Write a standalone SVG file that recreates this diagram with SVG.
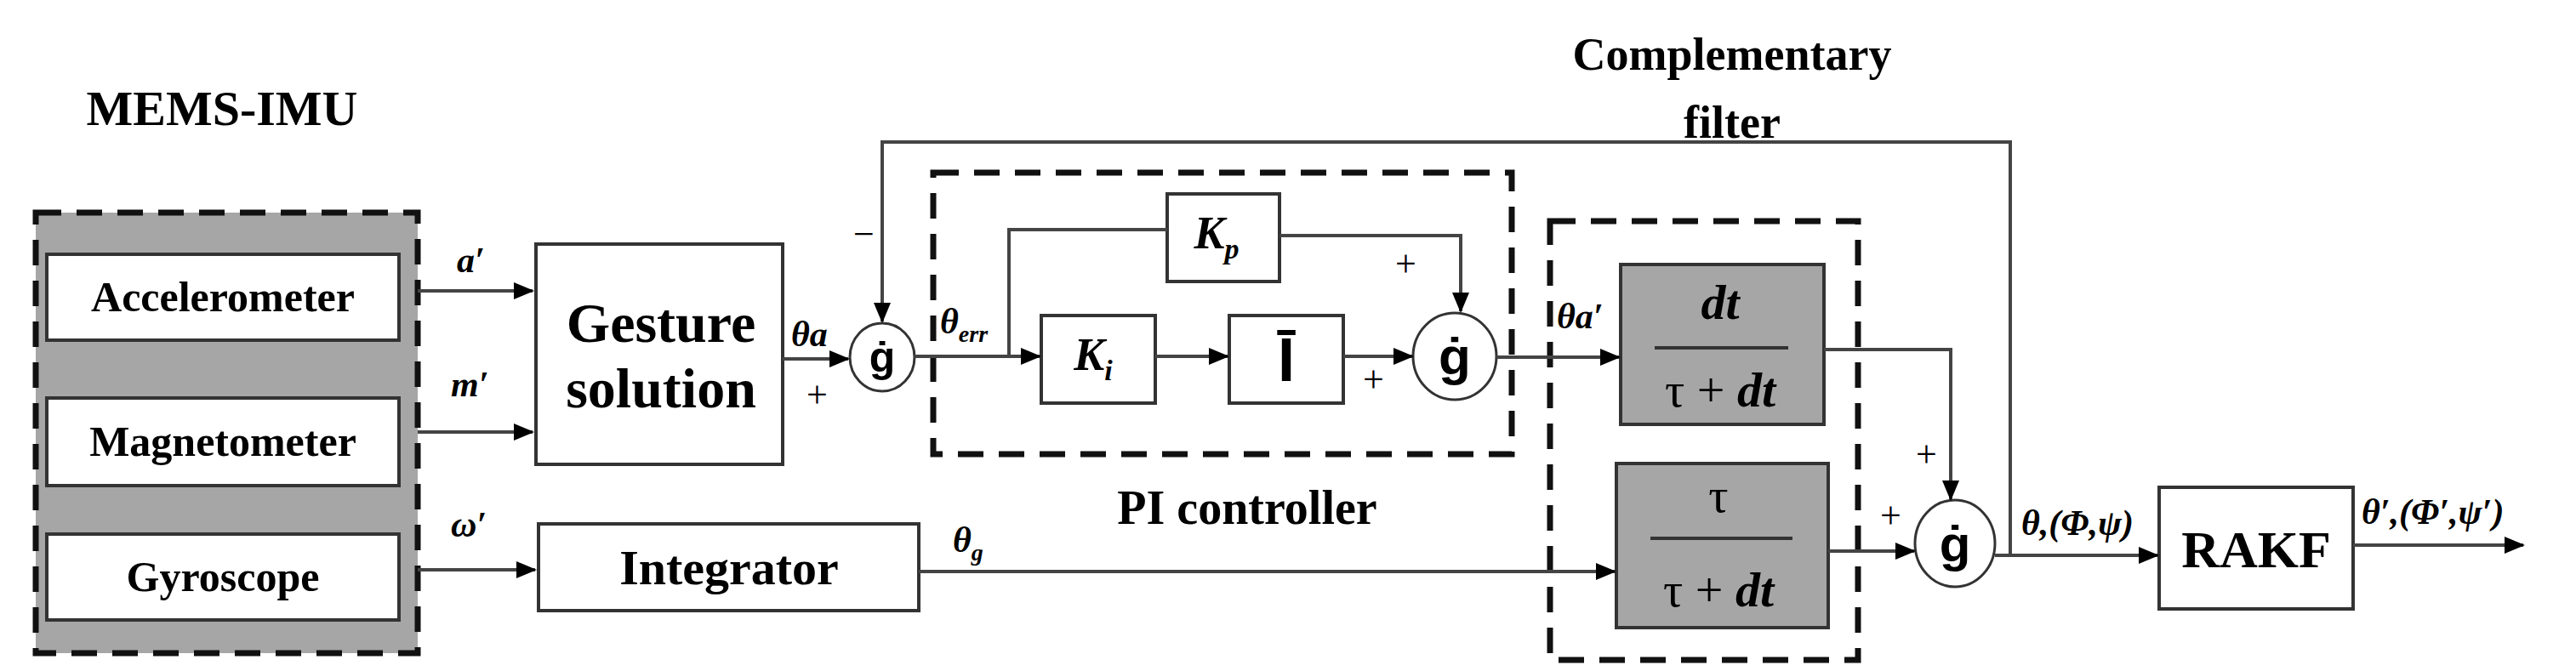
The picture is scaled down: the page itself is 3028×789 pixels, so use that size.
<svg xmlns="http://www.w3.org/2000/svg" width="3028" height="789" viewBox="0 0 3028 789">
<defs>
<marker id="ah" markerWidth="24" markerHeight="24" refX="22" refY="10" orient="auto" markerUnits="userSpaceOnUse" viewBox="0 0 24 20"><path d="M0,0 L24,10 L0,20 z" fill="#000"/></marker>
<style>
text{font-family:"Liberation Serif",serif;font-weight:bold;fill:#000}
.b{fill:#fff;stroke:#333;stroke-width:4}
.g{fill:#a6a6a6;stroke:#333;stroke-width:4}
.d{fill:none;stroke:#111;stroke-width:7;stroke-dasharray:30,18}
.c{fill:none;stroke:#444;stroke-width:4}
.s{fill:#fff;stroke:#333;stroke-width:3}
.l{font-style:italic;font-size:42px}
.m{text-anchor:middle}
.n{font-weight:normal}
.sg{font-family:"Liberation Sans",sans-serif}
</style>
</defs>
<rect width="3028" height="789" fill="#fff"/>
<text x="261" y="147" class="m" font-size="58">MEMS-IMU</text>
<text x="2036" y="82" class="m" font-size="54">Complementary</text>
<text x="2036" y="162" class="m" font-size="54">filter</text>
<text x="1466" y="616" class="m" font-size="56">PI controller</text>
<g id="imu"><rect x="42" y="250" width="449" height="518" class="d" style="fill:#a6a6a6"/></g>
<g id="pi"><rect x="1097" y="203" width="680" height="331" class="d"/></g>
<g id="cf"><rect x="1822" y="260" width="362" height="516" class="d"/></g>
<g id="acc"><rect x="55" y="299" width="414" height="101" class="b"/><text x="262" y="366" class="m" font-size="50">Accelerometer</text></g>
<g id="mag"><rect x="55" y="468" width="414" height="103" class="b"/><text x="262" y="536" class="m" font-size="50">Magnetometer</text></g>
<g id="gyr"><rect x="55" y="628" width="414" height="101" class="b"/><text x="262" y="695" class="m" font-size="50">Gyroscope</text></g>
<g id="gest"><rect x="630" y="287" width="290" height="259" class="b"/><text x="777" y="402" class="m" font-size="66">Gesture</text><text x="777" y="479" class="m" font-size="66">solution</text></g>
<g id="integ"><rect x="633" y="616" width="447" height="102" class="b"/><text x="857" y="687" class="m" font-size="58">Integrator</text></g>
<g id="sum1"><ellipse cx="1037" cy="420" rx="38" ry="40" class="s"/><text x="1037" y="437" class="m sg" font-size="50">ġ</text></g>
<g id="kp"><rect x="1372" y="228" width="132" height="103" class="b"/><text x="1430" y="292" class="m" font-size="54" font-style="italic">K<tspan font-size="34" dy="12">p</tspan></text></g>
<g id="ki"><rect x="1224" y="371" width="134" height="103" class="b"/><text x="1285" y="435" class="m" font-size="54" font-style="italic">K<tspan font-size="34" dy="12">i</tspan></text></g>
<g id="int"><rect x="1445" y="371" width="134" height="103" class="b"/><text x="1512" y="448" class="m sg" font-size="72">Ī</text></g>
<g id="sum2"><ellipse cx="1710" cy="419" rx="49" ry="51" class="s"/><text x="1710" y="440" class="m sg" font-size="62">ġ</text></g>
<g id="dt"><rect x="1905" y="311" width="239" height="188" class="g"/><text x="2022" y="375" class="m" font-size="58" font-style="italic">dt</text><line x1="1945" y1="409" x2="2102" y2="409" stroke="#333" stroke-width="4"/><text x="2022" y="478" class="m" font-size="58"><tspan class="n">τ + </tspan><tspan font-style="italic">dt</tspan></text></g>
<g id="tau"><rect x="1900" y="545" width="249" height="193" class="g"/><text x="2020" y="602" class="m n" font-size="58">τ</text><line x1="1940" y1="633" x2="2107" y2="633" stroke="#333" stroke-width="4"/><text x="2020" y="713" class="m" font-size="58"><tspan class="n">τ + </tspan><tspan font-style="italic">dt</tspan></text></g>
<g id="sum3"><ellipse cx="2298" cy="639" rx="47" ry="51" class="s"/><text x="2298" y="660" class="m sg" font-size="60">ġ</text></g>
<g id="rakf"><rect x="2538" y="573" width="228" height="143" class="b"/><text x="2652" y="667" class="m" font-size="62">RAKF</text></g>
<g id="connectors">
<path d="M491,342 H626" class="c" marker-end="url(#ah)"/>
<path d="M491,508 H626" class="c" marker-end="url(#ah)"/>
<path d="M491,670 H629" class="c" marker-end="url(#ah)"/>
<path d="M920,422 H997" class="c" marker-end="url(#ah)"/>
<path d="M2363,653 V167 H1037 V378" class="c" stroke-width="3" marker-end="url(#ah)"/>
<path d="M1075,419 H1222" class="c" marker-end="url(#ah)"/>
<path d="M1186,419 V270 H1372" class="c" stroke-width="3"/>
<path d="M1504,277 H1717 V366" class="c" stroke-width="3" marker-end="url(#ah)"/>
<path d="M1358,419 H1443" class="c" marker-end="url(#ah)"/>
<path d="M1579,419 H1660" class="c" marker-end="url(#ah)"/>
<path d="M1759,420 H1903" class="c" marker-end="url(#ah)"/>
<path d="M1080,672 H1898" class="c" stroke-width="3" marker-end="url(#ah)"/>
<path d="M2144,411 H2293 V587" class="c" marker-end="url(#ah)"/>
<path d="M2149,648 H2250" class="c" marker-end="url(#ah)"/>
<path d="M2345,653 H2536" class="c" marker-end="url(#ah)"/>
<path d="M2766,641 H2966" class="c" marker-end="url(#ah)"/>
</g>
<text x="537" y="320" class="l">a′</text>
<text x="530" y="466" class="l">m′</text>
<text x="530" y="631" class="l">ω′</text>
<text x="930" y="407" class="l">θa</text>
<text x="948" y="479" class="n" font-size="44">+</text>
<text x="1003" y="290" class="n" font-size="44">−</text>
<text x="1105" y="392" class="l">θ<tspan font-size="28" dy="10">err</tspan></text>
<text x="1640" y="325" class="n" font-size="44">+</text>
<text x="1602" y="461" class="n" font-size="44">+</text>
<text x="1830" y="386" class="l">θa′</text>
<text x="1120" y="649" class="l">θ<tspan font-size="28" dy="10">g</tspan></text>
<text x="2252" y="549" class="n" font-size="44">+</text>
<text x="2210" y="621" class="n" font-size="44">+</text>
<text x="2376" y="629" class="l" font-size="34">θ,(Φ,ψ)</text>
<text x="2776" y="616" class="l" font-size="34">θ′,(Φ′,ψ′)</text>
</svg>
